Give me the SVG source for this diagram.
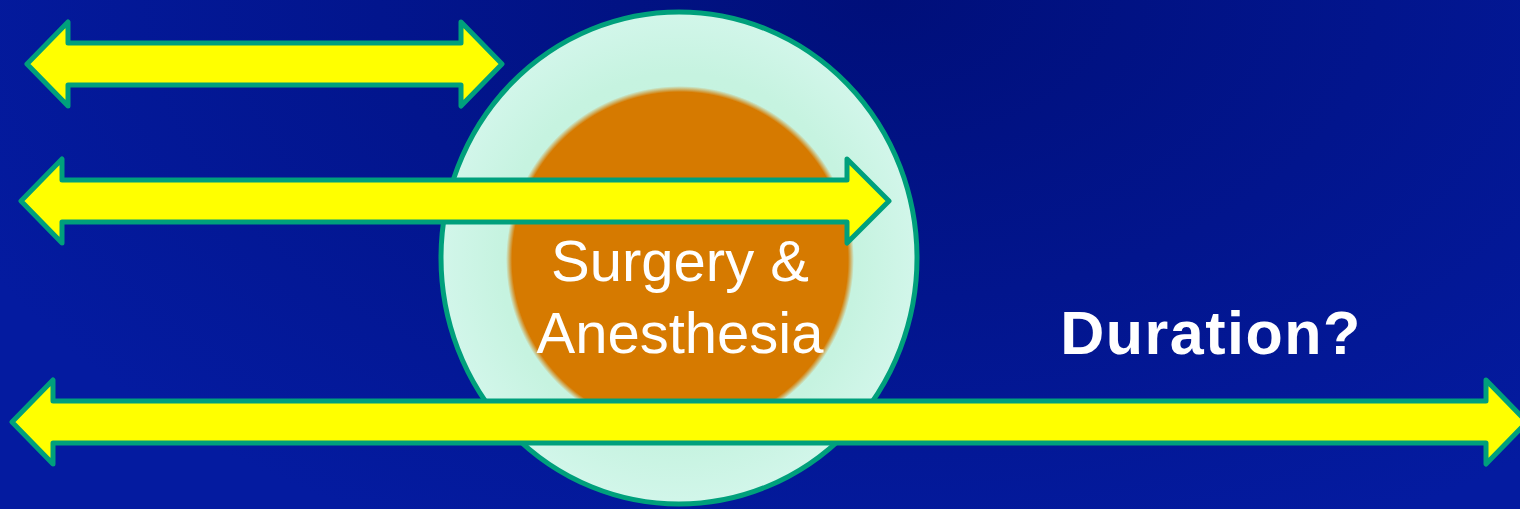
<svg xmlns="http://www.w3.org/2000/svg" width="1520" height="509" viewBox="0 0 1520 509">
  <defs>
    <radialGradient id="bg" cx="880" cy="0" r="1000" gradientUnits="userSpaceOnUse" gradientTransform="translate(880 0) scale(1 0.6) translate(-880 0)">
      <stop offset="0" stop-color="#000F7A"/>
      <stop offset="1" stop-color="#041BA0"/>
    </radialGradient>
    <radialGradient id="mint" cx="0.5" cy="0.5" r="0.5">
      <stop offset="0" stop-color="#C2F2DE"/>
      <stop offset="0.75" stop-color="#C6F3E0"/>
      <stop offset="1" stop-color="#D2F6EA"/>
    </radialGradient>
    <radialGradient id="orange" cx="0.5" cy="0.5" r="0.5">
      <stop offset="0" stop-color="#D67A00"/>
      <stop offset="0.965" stop-color="#D67A00"/>
      <stop offset="1" stop-color="#D67A00" stop-opacity="0"/>
    </radialGradient>
  </defs>
  <style>
    .arrow { fill: #FFFF00; stroke: #00A07C; stroke-width: 5; stroke-linejoin: round; }
    .label { font-family: "Liberation Sans", Arial, sans-serif; fill: #FFFFFF; text-anchor: middle; }
  </style>
  <rect x="0" y="0" width="1520" height="509" fill="url(#bg)"/>

  <g id="node-surgery">
    <ellipse cx="679" cy="258" rx="238" ry="246" fill="url(#mint)" stroke="#00A07C" stroke-width="5"/>
    <circle cx="680" cy="260" r="174" fill="url(#orange)"/>
    <text class="label" x="680" y="281" font-size="58">Surgery &amp;</text>
    <text class="label" x="680" y="353" font-size="58">Anesthesia</text>
  </g>

  <g id="connectors">
    <polygon class="arrow" points="27,64 68,22 68,43 461,43 461,22 502,64 461,106 461,85 68,85 68,106"/>
    <polygon class="arrow" points="21,201 62,159 62,180 847,180 847,159 889,201 847,243 847,222 62,222 62,243"/>
    <polygon class="arrow" points="12,422 53,380 53,401 1486,401 1486,380 1527,422 1486,464 1486,443 53,443 53,464"/>
  </g>

  <g id="node-duration">
    <text class="label" x="1211" y="354" font-size="61" font-weight="bold" letter-spacing="1.5">Duration?</text>
  </g>
</svg>
